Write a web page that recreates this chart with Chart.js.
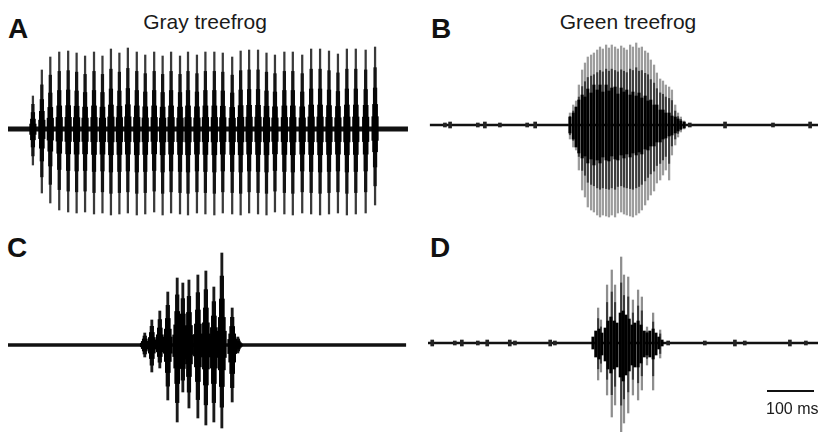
<!DOCTYPE html>
<html>

<head>
    <title>Treefrog calls</title>
    <script src="https://cdn.jsdelivr.net/npm/chart.js@4"></script>
    <style>
        body { margin: 0; width: 824px; height: 432px; overflow: hidden; background: #fff; font-family: "Liberation Sans", Arial, sans-serif; }
        canvas, .txt, .bar { position: absolute; }
        .txt { line-height: 1; white-space: nowrap; color: #1a1a1a; }
        .letter { font-size: 28px; font-weight: bold; color: #111; }
        .title { font-size: 21px; transform: translateX(-50%); }
    </style>
</head>

<body>
    <div class="txt letter" style="left:8px; top:15px">A</div>
    <div class="txt letter" style="left:431px; top:15px">B</div>
    <div class="txt letter" style="left:7px; top:234px">C</div>
    <div class="txt letter" style="left:430px; top:234px">D</div>
    <div class="txt title" style="left:205px; top:11px">Gray treefrog</div>
    <div class="txt title" style="left:628px; top:11px">Green treefrog</div>

    <canvas id="chartA" width="400" height="190" style="left:8px; top:34px"></canvas>
    <canvas id="chartB" width="390" height="190" style="left:428px; top:30px"></canvas>
    <canvas id="chartC" width="400" height="190" style="left:8px; top:250px"></canvas>
    <canvas id="chartD" width="390" height="190" style="left:428px; top:248px"></canvas>

    <div id="scalebar" class="bar" style="left:767px; top:390px; height:2px; background:#111"></div>
    <div class="txt" style="left:766px; top:401px; font-size:16px">100 ms</div>

    <script>
        // time in ms, amplitude in arbitrary units (above / below the baseline)
        const PX_PER_MS = 0.47;
        const scaleBarMs = 100;

        // A - gray treefrog, one entry per pulse
        const aPulseMs = [53, 72, 90, 109, 128, 146, 164, 183, 201, 219, 237, 255, 274, 292, 311, 329, 347, 366, 383, 402,
            420, 439, 457, 477, 495, 513, 532, 550, 568, 588, 606, 626, 645, 664, 683, 702, 721, 740, 761, 781];
        const aPulseTop = [33, 59, 72, 77, 78, 76, 73, 77, 73, 80, 76, 81, 77, 74, 77, 73, 77, 73, 77, 74,
            77, 77, 76, 72, 78, 79, 79, 76, 74, 77, 77, 74, 80, 80, 78, 75, 80, 80, 79, 82];
        const aPulseBottom = [36, 64, 74, 81, 83, 84, 83, 85, 84, 86, 85, 84, 86, 85, 83, 86, 84, 85, 86, 84,
            85, 86, 84, 85, 86, 84, 85, 86, 83, 85, 86, 84, 85, 86, 85, 84, 86, 85, 84, 76];

        // B - green treefrog
        const bMs = [302, 309, 315, 321, 328, 334, 340, 347, 353, 360, 366, 372, 379, 385, 391, 398, 404, 411, 417, 423,
            430, 436, 443, 449, 455, 462, 468, 474, 481, 487, 494, 500, 506, 513, 519, 526, 532, 538, 545];
        const bOuterTop = [12, 20, 24, 40, 55, 62, 68, 70, 72, 75, 78, 76, 80, 77, 80, 78, 76, 79, 77, 75,
            80, 78, 82, 77, 78, 74, 72, 65, 60, 52, 46, 44, 40, 38, 35, 20, 12, 8, 4];
        const bOuterBottom = [14, 22, 25, 45, 65, 72, 82, 85, 87, 90, 92, 90, 91, 92, 90, 92, 88, 87, 89, 90,
            91, 92, 90, 88, 85, 80, 75, 70, 66, 58, 55, 50, 45, 55, 30, 20, 12, 7, 4];
        const bCoreTop = [8, 12, 18, 25, 30, 28, 36, 32, 40, 35, 40, 33, 40, 34, 37, 38, 31, 37, 33, 35,
            30, 33, 29, 32, 27, 29, 24, 25, 20, 20, 15, 15, 12, 12, 9, 8, 6, 4, 3];
        const bCoreBottom = [8, 14, 22, 28, 33, 31, 38, 34, 40, 35, 38, 32, 35, 36, 31, 34, 35, 30, 33, 29,
            32, 28, 30, 27, 29, 24, 25, 21, 21, 17, 17, 14, 13, 11, 10, 8, 6, 4, 3];
        const bNoiseMs = [36, 47, 106, 121, 153, 211, 228, 557, 632, 734, 813];
        const bNoiseAmp = [2, 3, 2, 3, 2, 2, 3, 2, 3, 2, 3];

        // C - gray treefrog, short call
        const cPulseMs = [291, 306, 323, 340, 360, 372, 385, 404, 421, 438, 455, 477, 489];
        const cPulseTop = [12, 25, 34, 53, 67, 62, 65, 70, 74, 58, 92, 37, 8];
        const cPulseBottom = [12, 27, 23, 55, 77, 47, 63, 73, 80, 77, 83, 57, 8];

        // D - green treefrog, short call
        const dSpikeMs = [362, 368, 381, 391, 398, 411, 417, 426, 436, 447, 455, 466, 479, 494];
        const dSpikeTop = [35, 23, 58, 73, 58, 86, 68, 66, 43, 53, 46, 16, 30, 13];
        const dSpikeBottom = [37, 29, 52, 74, 62, 89, 80, 70, 52, 57, 47, 22, 47, 15];
        const dCoreMs = [351, 357, 364, 370, 377, 383, 389, 396, 402, 409, 415, 421, 428, 434, 440, 447, 453, 460, 466, 472,
            479, 485, 491, 498];
        const dCoreTop = [6, 12, 14, 10, 15, 22, 26, 22, 20, 30, 32, 28, 24, 18, 20, 22, 18, 12, 10, 12, 14, 10, 6, 3];
        const dCoreBottom = [6, 14, 16, 12, 18, 26, 30, 26, 24, 34, 38, 32, 28, 22, 24, 24, 20, 14, 12, 14, 16, 12, 6, 3];
        const dNoiseMs = [9, 57, 72, 106, 126, 174, 185, 260, 270, 511, 589, 653, 674, 770, 804];
        const dNoiseAmp = [3, 2, 3, 2, 3, 3, 2, 3, 2, 2, 2, 3, 2, 3, 2];

        // baseline start / end per panel
        const baseA = [0, 851];
        const baseB = [4, 830];
        const baseC = [0, 847];
        const baseD = [0, 830];

        const floating = (ms, top, bottom) => ms.map((t, i) => ({ x: t, y: [-bottom[i], top[i]] }));

        const bars = (data, color, thickness, axis, order) => ({
            type: 'bar',
            data: data,
            backgroundColor: color,
            borderWidth: 0,
            barThickness: thickness,
            grouped: false,
            yAxisID: axis,
            order: order,
        });

        const baseline = (span, width) => ({
            type: 'line',
            data: [{ x: span[0], y: 0 }, { x: span[1], y: 0 }],
            borderColor: '#111',
            borderWidth: width,
            pointRadius: 0,
            yAxisID: 'y',
            order: 9,
        });

        // the same pulse drawn on wider ranges gets shorter: thin tip, wide body
        const taper = (data, widths, axes, colors) =>
            widths.map((w, i) => bars(data, colors[i], w, axes[i], 8 - i));

        const panel = (id, datasets) => {
            const canvas = document.getElementById(id);
            new Chart(canvas, {
                type: 'bar',
                data: { datasets: datasets },
                options: {
                    responsive: false,
                    animation: false,
                    layout: { padding: 0 },
                    plugins: { legend: { display: false }, tooltip: { enabled: false } },
                    scales: {
                        x: { type: 'linear', min: 0, max: canvas.width / PX_PER_MS, offset: false, display: false },
                        y: { min: -95, max: 95, display: false },
                        y75: { min: -127, max: 127, display: false },
                        ym: { min: -136, max: 136, display: false },
                        y50: { min: -190, max: 190, display: false },
                        y30: { min: -317, max: 317, display: false },
                        y15: { min: -633, max: 633, display: false },
                    },
                },
            });
        };

        const aData = floating(aPulseMs, aPulseTop, aPulseBottom);
        panel('chartA', [
            ...taper(aData, [1.6, 2.6, 3.6, 5, 6.5], ['y', 'y75', 'y50', 'y30', 'y15'],
                ['#3a3a3a', '#141414', '#080808', '#000', '#000']),
            baseline(baseA, 5),
        ]);

        const bOuter = floating(bMs, bOuterTop, bOuterBottom);
        panel('chartB', [
            bars(bOuter, '#9c9c9c', 1.6, 'y', 3),
            bars(bOuter, '#3c3c3c', 1.4, 'ym', 2),
            bars(floating(bMs, bCoreTop, bCoreBottom), '#000', 2.4, 'y', 1),
            bars(floating(bNoiseMs, bNoiseAmp, bNoiseAmp), '#222', 3, 'y', 0),
            baseline(baseB, 2.5),
        ]);

        const cData = floating(cPulseMs, cPulseTop, cPulseBottom);
        panel('chartC', [
            ...taper(cData, [2.2, 3.6, 5, 7, 9], ['y', 'y75', 'y50', 'y30', 'y15'],
                ['#1a1a1a', '#0a0a0a', '#000', '#000', '#000']),
            baseline(baseC, 3.5),
        ]);

        const dSpikes = floating(dSpikeMs, dSpikeTop, dSpikeBottom);
        panel('chartD', [
            bars(dSpikes, '#8e8e8e', 1.6, 'y', 3),
            bars(dSpikes, '#3a3a3a', 1.4, 'ym', 2),
            bars(floating(dCoreMs, dCoreTop, dCoreBottom), '#000', 2.4, 'y', 1),
            bars(floating(dNoiseMs, dNoiseAmp, dNoiseAmp), '#222', 3, 'y', 0),
            baseline(baseD, 2.5),
        ]);

        document.getElementById('scalebar').style.width = (scaleBarMs * PX_PER_MS) + 'px';
    </script>
</body>

</html>
